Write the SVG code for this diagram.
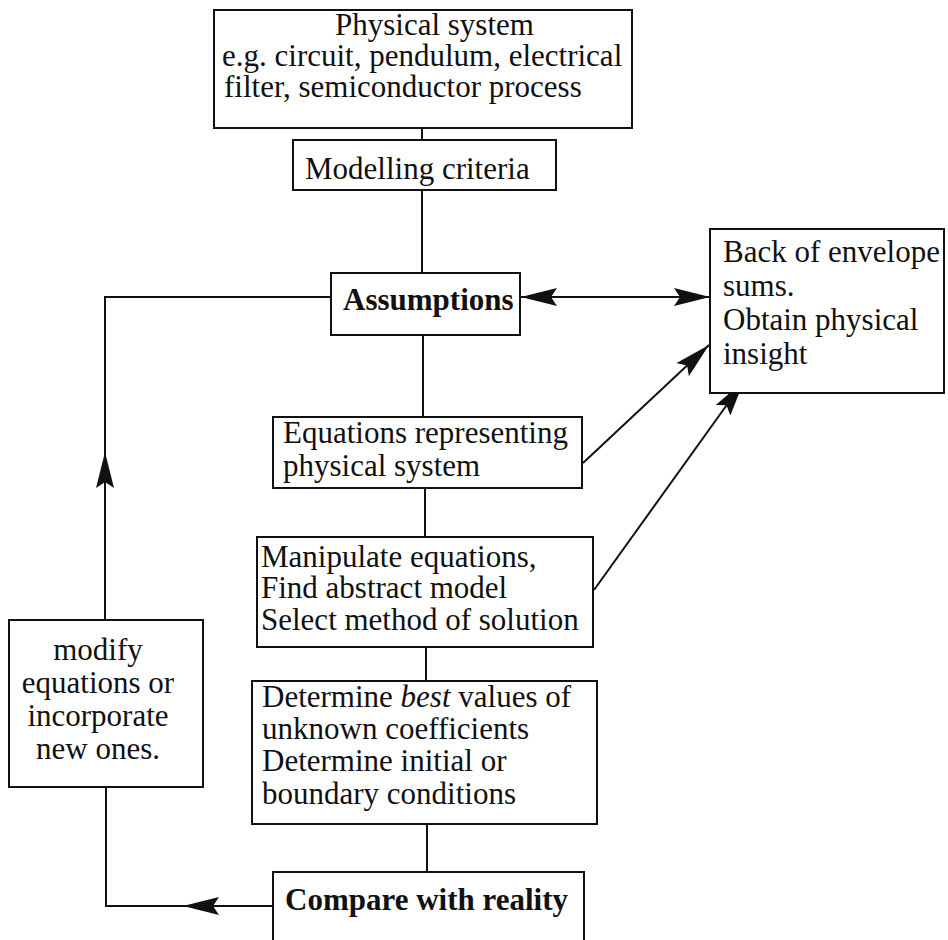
<svg xmlns="http://www.w3.org/2000/svg" width="948" height="940" viewBox="0 0 948 940">
  <style>
    .box { fill: #ffffff; stroke: #111111; stroke-width: 2; }
    .txt { font-family: "Liberation Serif", "Times New Roman", serif; font-size: 31px; fill: #111111; }
    .bold { font-weight: bold; }
    .mid { text-anchor: middle; }
    .wire { fill: none; stroke: #111111; stroke-width: 2; }
  </style>
  <defs>
    <marker id="head" markerUnits="userSpaceOnUse" viewBox="0 0 36 18" refX="36" refY="9" markerWidth="36" markerHeight="18" orient="auto-start-reverse">
      <path d="M0,0 L36,9 L0,18 L6,9 z" fill="#111111"/>
    </marker>
  </defs>
  <rect width="948" height="940" fill="#ffffff"/>

  <!-- connectors -->
  <g id="connectors" class="wire">
    <line x1="422" y1="128" x2="422" y2="140"/>
    <line x1="422" y1="190" x2="422" y2="273"/>
    <line x1="423" y1="335" x2="423" y2="417"/>
    <line x1="425" y1="488" x2="425" y2="537"/>
    <line x1="426" y1="647" x2="426" y2="681"/>
    <line x1="427" y1="824" x2="427" y2="872"/>
    <!-- assumptions <-> back of envelope -->
    <line x1="521" y1="297" x2="710" y2="297" marker-start="url(#head)" marker-end="url(#head)"/>
    <!-- diagonals into back of envelope -->
    <line x1="583" y1="463" x2="709" y2="345" marker-end="url(#head)"/>
    <line x1="594" y1="590" x2="744" y2="381" marker-end="url(#head)"/>
    <!-- feedback loop: compare -> modify -> assumptions -->
    <line x1="273" y1="906" x2="183" y2="906" marker-end="url(#head)"/>
    <polyline points="183,906 106,906 106,787"/>
    <line x1="105" y1="620" x2="105" y2="452" marker-end="url(#head)"/>
    <polyline points="105,452 105,297 331,297"/>
  </g>

  <g id="physical-system">
    <rect class="box" x="214" y="10" width="418" height="118"/>
    <text class="txt" x="335" y="35">Physical system</text>
    <text class="txt" x="222" y="66">e.g. circuit, pendulum, electrical</text>
    <text class="txt" x="224" y="97">filter, semiconductor process</text>
  </g>

  <g id="modelling-criteria">
    <rect class="box" x="293" y="140" width="263" height="50"/>
    <text class="txt" x="305" y="179">Modelling criteria</text>
  </g>

  <g id="assumptions">
    <rect class="box" x="331" y="273" width="189" height="62"/>
    <text class="txt bold" x="343" y="310">Assumptions</text>
  </g>

  <g id="back-of-envelope">
    <rect class="box" x="710" y="229" width="234" height="164"/>
    <text class="txt" x="723" y="262">Back of envelope</text>
    <text class="txt" x="723" y="296">sums.</text>
    <text class="txt" x="723" y="330">Obtain physical</text>
    <text class="txt" x="723" y="364">insight</text>
  </g>

  <g id="equations">
    <rect class="box" x="273" y="417" width="309" height="71"/>
    <text class="txt" x="283" y="443">Equations representing</text>
    <text class="txt" x="283" y="476">physical system</text>
  </g>

  <g id="manipulate">
    <rect class="box" x="257" y="537" width="336" height="110"/>
    <text class="txt" x="261" y="567">Manipulate equations,</text>
    <text class="txt" x="261" y="598">Find abstract model</text>
    <text class="txt" x="261" y="630">Select method of solution</text>
  </g>

  <g id="determine">
    <rect class="box" x="252" y="681" width="345" height="143"/>
    <text class="txt" x="262" y="707">Determine <tspan font-style="italic">best</tspan> values of</text>
    <text class="txt" x="262" y="739">unknown coefficients</text>
    <text class="txt" x="262" y="771">Determine initial or</text>
    <text class="txt" x="262" y="804">boundary conditions</text>
  </g>

  <g id="compare">
    <rect class="box" x="273" y="872" width="311" height="80"/>
    <text class="txt bold" x="285" y="910">Compare with reality</text>
  </g>

  <g id="modify">
    <rect class="box" x="9" y="620" width="194" height="167"/>
    <text class="txt mid" x="98" y="660">modify</text>
    <text class="txt mid" x="98" y="693">equations or</text>
    <text class="txt mid" x="98" y="726">incorporate</text>
    <text class="txt mid" x="98" y="759">new ones.</text>
  </g>
</svg>
